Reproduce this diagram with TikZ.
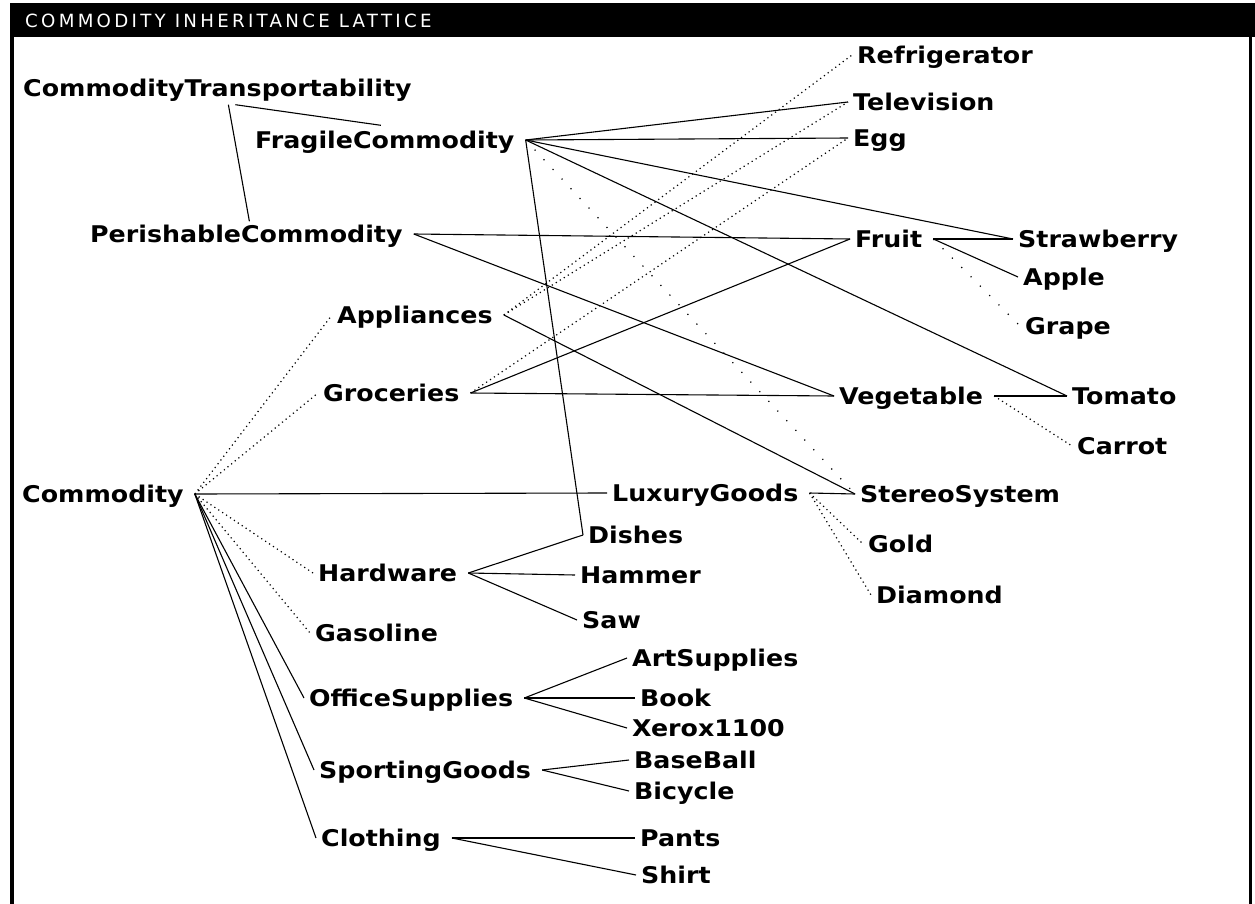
\documentclass[tikz,border=0pt]{standalone}
\usepackage{fontspec}
\newfontfamily\lisp{DejaVu Sans}[FakeStretch=1.1]
\newfontfamily\titlefont{DejaVu Sans}[LetterSpace=18]
\tikzset{
	cls/.style={anchor=west, inner xsep=5pt, inner ysep=0pt, text height=17pt, text depth=0pt, font=\lisp\bfseries\fontsize{23}{27}\selectfont},
	link/.style={line width=1.1pt},
	faint/.style={line width=1.2pt, dash pattern=on 1.2pt off 3.5pt},
	sparse/.style={line width=1.2pt, dash pattern=on 1.2pt off 12pt}
}
\newcommand{\isa}[3][link]{\draw[#1] ([xshift=6pt]#2.east) -- (#3.west);}

\begin{document}
\begin{tikzpicture}[x=1pt, y=-1pt]
				\useasboundingbox (0,0) rectangle (1255,904);
				\fill[black] (12,3) rectangle (1255,37);
				\fill[black] (10,3) rectangle (14,904);
				\fill[black] (1249,37) rectangle (1252,904);
				\node[anchor=west, inner sep=0pt, text height=13pt, text depth=0pt, text=white, font=\titlefont\fontsize{18.2}{20}\selectfont] (title) at (25,21) {COMMODITY INHERITANCE LATTICE};
				
				\node[cls] (ct) at (18,88) {CommodityTransportability};
				\node[cls] (fc) at (250,140) {FragileCommodity};
				\node[cls] (pc) at (85,234) {PerishableCommodity};
				\node[cls] (appl) at (332,315) {Appliances};
				\node[cls] (groc) at (318,393) {Groceries};
				\node[cls] (comm) at (17,494) {Commodity};
				\node[cls] (hard) at (313,573) {Hardware};
				\node[cls] (gas) at (310,633) {Gasoline};
				\node[cls] (office) at (304,698) {OfficeSupplies};
				\node[cls] (sport) at (314,770) {SportingGoods};
				\node[cls] (cloth) at (316,838) {Clothing};
				
				\node[cls] (refr) at (852,55) {Refrigerator};
				\node[cls] (tv) at (848,102) {Television};
				\node[cls] (egg) at (848,138) {Egg};
				\node[cls] (fruit) at (850,239) {Fruit};
				\node[cls] (straw) at (1013,239) {Strawberry};
				\node[cls] (apple) at (1018,277) {Apple};
				\node[cls] (grape) at (1020,326) {Grape};
				\node[cls] (veg) at (834,396) {Vegetable};
				\node[cls] (tomato) at (1067,396) {Tomato};
				\node[cls] (carrot) at (1072,446) {Carrot};
				\node[cls] (lux) at (607,493) {LuxuryGoods};
				\node[cls] (stereo) at (855,494) {StereoSystem};
				\node[cls] (gold) at (863,544) {Gold};
				\node[cls] (diamond) at (871,595) {Diamond};
				
				\node[cls] (dishes) at (583,535) {Dishes};
				\node[cls] (hammer) at (575,575) {Hammer};
				\node[cls] (saw) at (577,620) {Saw};
				\node[cls] (art) at (627,658) {ArtSupplies};
				\node[cls] (book) at (635,698) {Book};
				\node[cls] (xerox) at (627,728) {Xerox1100};
				\node[cls] (baseball) at (629,760) {BaseBall};
				\node[cls] (bicycle) at (629,791) {Bicycle};
				\node[cls] (pants) at (635,838) {Pants};
				\node[cls] (shirt) at (636,875) {Shirt};
				
				\draw[link] ([xshift=18pt,yshift=-8pt]ct.south) -- ([xshift=-4pt,yshift=6pt]fc.north);
				\draw[link] ([xshift=11pt,yshift=-8pt]ct.south) -- ([xshift=3pt,yshift=4pt]pc.north);
				
				\isa{fc}{tv}
				\isa{fc}{egg}
				\isa{fc}{straw}
				\isa{fc}{tomato}
				\isa{fc}{dishes}
				\isa[sparse]{fc}{stereo}
				
				\isa{pc}{fruit}
				\isa{pc}{veg}
				
				\isa[faint]{comm}{appl}
				\isa[faint]{comm}{groc}
				\isa{comm}{lux}
				\isa[faint]{comm}{hard}
				\isa[faint]{comm}{gas}
				\isa{comm}{office}
				\isa{comm}{sport}
				\isa{comm}{cloth}
				
				\isa[faint]{appl}{refr}
				\isa[faint]{appl}{tv}
				\isa{appl}{stereo}
				
				\isa[faint]{groc}{egg}
				\isa{groc}{fruit}
				\isa{groc}{veg}
				
				\isa{fruit}{straw}
				\isa{fruit}{apple}
				\isa[sparse]{fruit}{grape}
				\isa{veg}{tomato}
				\isa[faint]{veg}{carrot}
				\isa{lux}{stereo}
				\isa[faint]{lux}{gold}
				\isa[faint]{lux}{diamond}
				
				\isa{hard}{dishes}
				\isa{hard}{hammer}
				\isa{hard}{saw}
				\isa{office}{art}
				\isa{office}{book}
				\isa{office}{xerox}
				\isa{sport}{baseball}
				\isa{sport}{bicycle}
				\isa{cloth}{pants}
				\isa{cloth}{shirt}
\end{tikzpicture}
\end{document}
